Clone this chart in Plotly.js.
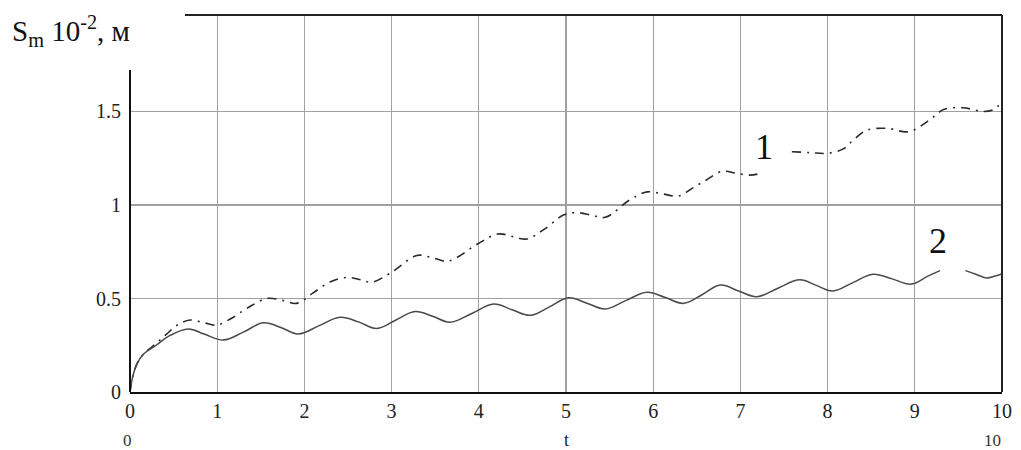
<!DOCTYPE html>
<html>
<head>
<meta charset="utf-8">
<script src="https://cdn.plot.ly/plotly-3.0.1.min.js"></script>
<style>
html,body{margin:0;padding:0;background:#fff;}
#chart{width:1021px;height:450px;}
</style>
</head>
<body>
<div id="chart"></div>
<script>
// Curve 1 (dash-dot), gap where label "1" sits
const tCurve1 = [0,0.03,0.08,0.15,0.3,0.42,0.55,0.69,0.85,0.99,1.15,1.34,1.57,1.75,1.91,2.1,2.3,2.49,2.65,2.77,3.0,3.29,3.45,3.65,3.98,4.22,4.4,4.55,4.75,4.97,5.12,5.3,5.45,5.73,5.93,6.1,6.29,6.45,6.61,6.79,6.95,7.11,7.24,7.4,7.59,7.8,7.99,8.18,8.3,8.45,8.68,8.93,9.17,9.33,9.55,9.79,9.9,10];
const sCurve1 = [0,0.08,0.15,0.20,0.26,0.31,0.36,0.385,0.37,0.358,0.39,0.447,0.50,0.49,0.474,0.53,0.59,0.613,0.60,0.587,0.64,0.73,0.72,0.70,0.79,0.845,0.83,0.818,0.87,0.946,0.959,0.945,0.934,1.027,1.07,1.06,1.048,1.09,1.134,1.18,1.17,1.16,1.17,null,1.285,1.28,1.276,1.30,1.35,1.40,1.41,1.392,1.455,1.51,1.52,1.50,1.51,1.55];
// Curve 2 (solid), gap where label "2" sits
const tCurve2 = [0,0.03,0.08,0.15,0.3,0.45,0.67,0.85,1.07,1.3,1.53,1.73,1.93,2.17,2.41,2.62,2.83,3.05,3.27,3.47,3.67,3.92,4.17,4.38,4.59,4.81,5.03,5.24,5.45,5.69,5.93,6.14,6.35,6.56,6.77,6.98,7.19,7.43,7.68,7.87,8.06,8.29,8.52,8.74,8.96,9.15,9.29,9.4,9.58,9.7,9.82,9.92,10];
const sCurve2 = [0,0.08,0.15,0.20,0.25,0.30,0.337,0.31,0.278,0.32,0.37,0.345,0.31,0.355,0.40,0.375,0.34,0.385,0.43,0.405,0.373,0.42,0.47,0.44,0.41,0.455,0.504,0.475,0.444,0.49,0.533,0.505,0.474,0.52,0.572,0.54,0.51,0.555,0.60,0.57,0.54,0.585,0.63,0.605,0.577,0.62,0.649,null,0.649,0.63,0.61,0.62,0.633];
const xTicks = [0,1,2,3,4,5,6,7,8,9,10];
const yTicks = [0,0.5,1,1.5];
const yTickText = ["0","0.5","1","1.5"];
const curveLabels = ["1","2"];
const curveLabelPos = [[7.27,1.31],[9.27,0.81]];
const yTitle = "S<sub>m</sub> 10<sup>-2</sup>, м";
const xTitle = "t";
const xRangeLabels = ["0","10"];

const serif = 'Liberation Serif, serif';

const traces = [
  {x:tCurve1, y:sCurve1, type:'scatter', mode:'lines', line:{color:'#2a2a2a', width:1.6, dash:'9px,6px,2px,6px', shape:'spline', smoothing:1.0}, hoverinfo:'skip', connectgaps:false},
  {x:tCurve2, y:sCurve2, type:'scatter', mode:'lines', line:{color:'#4a4a4a', width:1.5, shape:'spline', smoothing:1.1}, hoverinfo:'skip', connectgaps:false}
];

const annotations = [
  {xref:'paper', yref:'paper', x:-0.138, y:0.958, xanchor:'left', yanchor:'middle', text:yTitle, showarrow:false, font:{family:serif, size:29, color:'#111'}},
  {xref:'paper', yref:'paper', x:0.5, y:-0.128, xanchor:'center', yanchor:'middle', text:xTitle, showarrow:false, font:{family:serif, size:18, color:'#222'}},
  {xref:'paper', yref:'paper', x:-0.0034, y:-0.128, xanchor:'center', yanchor:'middle', text:xRangeLabels[0], showarrow:false, font:{family:serif, size:17, color:'#333'}},
  {xref:'paper', yref:'paper', x:1.001, y:-0.128, xanchor:'right', yanchor:'middle', text:xRangeLabels[1], showarrow:false, font:{family:serif, size:17, color:'#333'}}
];
curveLabels.forEach((lab,i)=>{
  annotations.push({xref:'x', yref:'y', x:curveLabelPos[i][0], y:curveLabelPos[i][1], xanchor:'center', yanchor:'middle', text:lab, showarrow:false, font:{family:serif, size:36, color:'#111'}});
});

const layout = {
  width:1021, height:450,
  margin:{l:130, r:19, t:15, b:58},
  paper_bgcolor:'#fff', plot_bgcolor:'#fff',
  showlegend:false,
  font:{family:serif, size:18, color:'#222'},
  xaxis:{range:[0,10], tickvals:xTicks, ticktext:xTicks.map(String), showgrid:true, gridcolor:'#a0a0a0', gridwidth:1.2,
         zeroline:false, showline:true, linecolor:'#111', linewidth:2, ticks:'', tickfont:{family:serif, size:20, color:'#222'}},
  yaxis:{range:[0,2.016], tickvals:yTicks, ticktext:yTickText, showgrid:true, gridcolor:'#a0a0a0', gridwidth:1.2,
         zeroline:false, showline:false, ticks:'', ticklabelstandoff:8, tickfont:{family:serif, size:20, color:'#222'}},
  shapes:[
    {type:'line', xref:'paper', yref:'paper', x0:0, x1:0, y0:0, y1:0.854, line:{color:'#111', width:2}},
    {type:'line', xref:'paper', yref:'paper', x0:0.063, x1:1, y0:1, y1:1, line:{color:'#222', width:2}},
    {type:'line', xref:'paper', yref:'paper', x0:1, x1:1, y0:0, y1:1, line:{color:'#222', width:2}}
  ],
  annotations:annotations
};

Plotly.newPlot('chart', traces, layout, {displayModeBar:false, staticPlot:true});
</script>
</body>
</html>
